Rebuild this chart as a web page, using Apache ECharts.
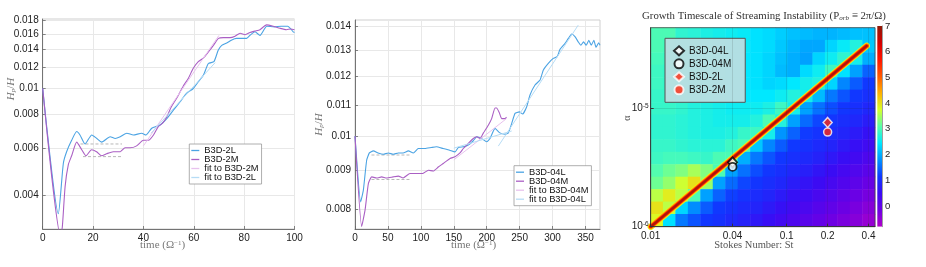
<!DOCTYPE html>
<html><head><meta charset="utf-8">
<script src="https://cdn.jsdelivr.net/npm/echarts@6/dist/echarts.min.js"></script>
<style>html,body{margin:0;padding:0;background:#fff}#c{width:926px;height:267px}</style>
</head><body><div id="c"></div>
<script>
// ---------------- Panel 1 (B3D-2L / B3D-2M) ----------------
const p1TimeL = [0, 6.2, 8.2, 9.5, 11.5, 13.5, 14.8, 16.8, 19.5, 21.5, 23.4, 26.8, 28.8, 30.8, 33.4, 36, 39.3, 41, 43.3, 46.6, 49.2, 51.9, 54.5, 57.2, 59.8, 61.8, 63.8, 65.8, 68, 69.7, 71.1, 73.1, 75.1, 77, 81, 82.3, 84.3, 86.3, 89, 92, 94.7, 97.3, 99.5, 100];
const p1ValL  = [0.0100, 0.0034, 0.00525, 0.0058, 0.0064, 0.0069, 0.0067, 0.0062, 0.0067, 0.0065, 0.0063, 0.0066, 0.0065, 0.0066, 0.0068, 0.0067, 0.0068, 0.0067, 0.0071, 0.0073, 0.0077, 0.0083, 0.0089, 0.0096, 0.0100, 0.0106, 0.0112, 0.0124, 0.0126, 0.0139, 0.0145, 0.0148, 0.0152, 0.0154, 0.0154, 0.0158, 0.0163, 0.0158, 0.0171, 0.0170, 0.0171, 0.0171, 0.0163, 0.0162];
const p1TimeM = [0, 7.1, 7.8, 8.9, 10.2, 11.5, 13.5, 15.5, 17.2, 19.4, 21.4, 23.4, 25.4, 28, 30.8, 32.7, 34.7, 37.3, 40, 42, 44, 45.9, 47.5, 49.2, 51, 53.2, 55.8, 57.8, 59.8, 61.8, 63.8, 65.8, 67.8, 69.8, 71.7, 74.4, 76.4, 78.4, 80.4, 82.3, 84.3, 86.3, 88.9, 91.5, 94.2, 96.8, 98.5, 100];
const p1ValM  = [0.0100, 0.0028, 0.00304, 0.0043, 0.0052, 0.0056, 0.0063, 0.0059, 0.0056, 0.0059, 0.0058, 0.0056, 0.0057, 0.0058, 0.0058, 0.0060, 0.0060, 0.0061, 0.0064, 0.0064, 0.0067, 0.0072, 0.0074, 0.0078, 0.0085, 0.0092, 0.0102, 0.0109, 0.0119, 0.0126, 0.0130, 0.0137, 0.0145, 0.0154, 0.0155, 0.0155, 0.0157, 0.0161, 0.0159, 0.0162, 0.0164, 0.0166, 0.0173, 0.0171, 0.0168, 0.0166, 0.0167, 0.0166];
const p1FitMTime = [40, 70];     const p1FitMVal = [0.0061, 0.0158];
const p1FitLTime = [43, 68.5];   const p1FitLVal = [0.0068, 0.0125];
const p1PlatLTime = [15, 31.5];  const p1PlatLVal = [0.0062, 0.0062];
const p1PlatMTime = [16, 31.5];  const p1PlatMVal = [0.00556, 0.00556];
const p1YTicks = [0.004, 0.006, 0.008, 0.01, 0.012, 0.014, 0.016, 0.018];
const p1XTicks = [0, 20, 40, 60, 80, 100];

// ---------------- Panel 2 (B3D-04L / B3D-04M) ----------------
const p2TimeL = [0, 8.6, 12.7, 17.7, 21.8, 27.8, 35, 43, 50.6, 58, 65.8, 73, 81, 88.6, 96.2, 106, 116, 123.5, 133.6, 143.7, 151.8, 156.9, 164.5, 172, 179.6, 184.8, 192, 200, 205, 212.6, 220, 227.8, 232.8, 238, 243, 249.5, 254.5, 260.7, 265.7, 273.3, 281, 286, 293.5, 301, 307, 311.3, 318.9, 323.9, 329, 334, 339, 343, 347, 351, 355, 358.7, 362.7, 366, 370, 372];
const p2ValL  = [0.0100, 0.00818, 0.00848, 0.00929, 0.0095, 0.00956, 0.0095, 0.00946, 0.0095, 0.00946, 0.0095, 0.0095, 0.00956, 0.0095, 0.00963, 0.00963, 0.00966, 0.00968, 0.00963, 0.00958, 0.00953, 0.00966, 0.00968, 0.00973, 0.00986, 0.00998, 0.00993, 0.00983, 0.00993, 0.01024, 0.0101, 0.01006, 0.0101, 0.0104, 0.01072, 0.01077, 0.0107, 0.01094, 0.01134, 0.01169, 0.01187, 0.01224, 0.01249, 0.01268, 0.01275, 0.01304, 0.01328, 0.01348, 0.01366, 0.01355, 0.01334, 0.0132, 0.01334, 0.0132, 0.0134, 0.0132, 0.0134, 0.01312, 0.0133, 0.0132];
const p2TimeM = [0, 10.1, 15.2, 20.3, 25.3, 33, 40.5, 48, 58, 65.8, 73, 83.5, 93.7, 103.8, 111.3, 118.9, 126.5, 134, 144.3, 151.8, 159.4, 164.5, 172, 179.6, 184.8, 189.9, 195, 202.4, 207.5, 212.6, 215, 219, 222.7, 227.8, 230];
const p2ValM  = [0.0100, 0.00759, 0.00797, 0.00865, 0.00883, 0.0088, 0.00883, 0.0088, 0.00883, 0.00885, 0.0088, 0.00892, 0.00892, 0.00893, 0.00901, 0.00899, 0.0091, 0.0092, 0.00934, 0.00939, 0.0095, 0.00963, 0.00978, 0.00993, 0.00998, 0.00993, 0.0101, 0.01034, 0.01055, 0.0109, 0.0109, 0.01075, 0.01055, 0.01055, 0.0106];
const p2FitMTime = [150, 230];      const p2FitMVal = [0.0093, 0.01055];
const p2FitL1Time = [150, 238];     const p2FitL1Val = [0.00964, 0.01016];
const p2FitL2Time = [217.6, 339];   const p2FitL2Val = [0.0097, 0.01404];
const p2PlatLTime = [25, 83.5];     const p2PlatLVal = [0.00944, 0.00944];
const p2PlatMTime = [25, 83.5];     const p2PlatMVal = [0.00876, 0.00876];
const p2YTicks = [0.008, 0.009, 0.01, 0.011, 0.012, 0.013, 0.014];
const p2XTicks = [0, 50, 100, 150, 200, 250, 300, 350];

// ---------------- Panel 3 (growth timescale map) ----------------
const p3StTicks = [0.01, 0.04, 0.1, 0.2, 0.4];
const p3AlphaTicks = [1e-6, 1e-5];
const p3StRange = [0.01, 0.446];
const p3AlphaRange = [1e-6, 4.8e-5];
// log10 growth time, grid rows from top (high alpha) to bottom, columns from St=0.01 to 0.446
const p3Grid = [
 [3.0, 3.0, 2.8, 2.75, 2.65, 2.6, 2.55, 2.5, 2.4, 2.35, 2.25, 2.15, 2.1, 2.05, 2.05, 2.1, 2.15, 2.15],
 [3.0, 2.95, 2.8, 2.75, 2.65, 2.6, 2.55, 2.5, 2.4, 2.35, 2.2, 2.05, 1.95, 1.95, 2.3, 2.5, 2.7, 2.2],
 [2.95, 2.9, 2.8, 2.7, 2.65, 2.6, 2.55, 2.45, 2.4, 2.3, 2.15, 2.0, 1.9, 2.3, 2.55, 2.8, 2.6, 2.0],
 [2.9, 2.85, 2.8, 2.7, 2.65, 2.6, 2.55, 2.45, 2.4, 2.3, 2.1, 2.0, 2.35, 2.55, 2.9, 2.4, 1.9, 1.45],
 [2.9, 2.85, 2.8, 2.7, 2.65, 2.6, 2.55, 2.45, 2.4, 2.3, 2.35, 2.45, 2.6, 2.7, 2.3, 1.7, 1.4, 1.15],
 [2.85, 2.85, 2.8, 2.7, 2.65, 2.6, 2.55, 2.45, 2.45, 2.45, 2.55, 2.7, 2.6, 2.1, 1.6, 1.35, 1.13, 1.03],
 [2.85, 2.85, 2.8, 2.7, 2.65, 2.6, 2.55, 2.55, 2.55, 2.65, 2.9, 2.6, 1.9, 1.55, 1.3, 1.12, 1.02, 0.9],
 [2.8, 2.8, 2.75, 2.7, 2.65, 2.6, 2.6, 2.6, 2.7, 3.0, 2.7, 1.9, 1.5, 1.25, 1.1, 1.0, 0.9, 0.75],
 [2.8, 2.8, 2.75, 2.7, 2.65, 2.65, 2.7, 2.85, 2.9, 2.6, 1.8, 1.45, 1.17, 1.07, 0.97, 0.87, 0.72, 0.58],
 [2.85, 2.85, 2.8, 2.75, 2.75, 2.75, 2.9, 3.0, 2.2, 1.7, 1.4, 1.15, 1.05, 0.95, 0.85, 0.7, 0.55, 0.42],
 [2.9, 2.95, 2.95, 2.9, 2.85, 3.0, 3.0, 2.0, 1.6, 1.35, 1.13, 1.03, 0.93, 0.82, 0.67, 0.53, 0.39, 0.25],
 [3.05, 3.2, 3.3, 3.5, 3.3, 3.0, 1.9, 1.55, 1.3, 1.12, 1.02, 0.9, 0.78, 0.64, 0.5, 0.36, 0.22, 0.08],
 [3.2, 3.4, 3.7, 4.0, 3.4, 1.9, 1.5, 1.25, 1.1, 1.0, 0.9, 0.75, 0.6, 0.47, 0.33, 0.2, 0.05, -0.1],
 [3.6, 3.9, 3.6, 3.0, 1.9, 1.45, 1.2, 1.07, 0.97, 0.87, 0.72, 0.58, 0.45, 0.3, 0.17, 0.03, -0.12, -0.25],
 [4.0, 3.6, 2.3, 1.75, 1.4, 1.15, 1.05, 0.95, 0.85, 0.7, 0.56, 0.42, 0.28, 0.14, 0.0, -0.14, -0.27, -0.4],
 [3.8, 2.4, 1.6, 1.35, 1.13, 1.05, 0.93, 0.82, 0.67, 0.53, 0.39, 0.25, 0.1, -0.03, -0.17, -0.28, -0.4, -0.55]
];
const ridgeSt = [0.01, 0.387];
const ridgeAlpha = [1e-6, 3.37e-5];
const runNames = ['B3D-04L', 'B3D-04M', 'B3D-2L', 'B3D-2M'];
const runSt = [0.04, 0.04, 0.2, 0.2];
const runAlpha = [3.5e-6, 3.2e-6, 7.6e-6, 6.3e-6];
const cbTicks = [0, 1, 2, 3, 4, 5, 6, 7];
const cbRange = [-0.8, 7];
const cmapValues = [-0.8, -0.15, 0.5, 1.15, 1.8, 2.45, 3.1, 3.75, 4.4, 5.05, 5.7, 6.35, 7.0];
const cmapColors = ['#b000c8', '#6c00e4', '#3a0cf4', '#1038ff', '#0094ff', '#00e8ff', '#5affa8', '#d8ff28', '#ffb000', '#ff5800', '#ff1400', '#d40000', '#8e1a08'];

// ---------------- helpers ----------------
const L = Math.log10;
const ZW = '\u200b';
const pairs = (ts, vs) => ts.map((t, i) => [t, L(vs[i])]);
const logPairs = (xs, ys) => xs.map((x, i) => [L(x), L(ys[i])]);
const hex2rgb = h => [1, 3, 5].map(k => parseInt(h.substr(k, 2), 16));
function colorAt(v) {
  for (let k = 0; k < cmapValues.length - 1; k++) {
    if (v >= cmapValues[k] && v <= cmapValues[k + 1]) {
      const f = (v - cmapValues[k]) / (cmapValues[k + 1] - cmapValues[k]);
      const a = hex2rgb(cmapColors[k]), b = hex2rgb(cmapColors[k + 1]);
      return 'rgb(' + a.map((c, i) => Math.round(c + (b[i] - c) * f)).join(',') + ')';
    }
  }
  return v < cmapValues[0] ? cmapColors[0] : cmapColors[cmapColors.length - 1];
}
function gradient(top, bottom) {
  const stops = [{offset: 0, color: colorAt(top)}];
  cmapValues.forEach(v => { if (v < top && v > bottom) stops.push({offset: (top - v) / (top - bottom), color: colorAt(v)}); });
  stops.push({offset: 1, color: colorAt(bottom)});
  stops.sort((a, b) => a.offset - b.offset);
  return new echarts.graphic.LinearGradient(0, 0, 0, 1, stops);
}
const nRows = p3Grid.length;
const heatData = [];
p3Grid.forEach((row, i) => row.forEach((v, j) => heatData.push([j, nRows - 1 - i, v])));
const colCats = p3Grid[0].map((_, j) => String(j));
const rowCats = p3Grid.map((_, i) => String(i));

const FONT = 'Liberation Sans';
const SERIF = 'Liberation Serif';
const BLUE = '#4ba3e3', PURPLE = '#aa5fc4', FITPINK = '#e8c2ee', FITBLUE = '#b6dcf5', DASH = '#b8b8b8';
const RED = '#ff2a10';

const tickFmt = v => String(parseFloat(Math.pow(10, v).toFixed(4)));
const axLine = {lineStyle: {color: '#555', width: 0.8}};
const axTick = extra => Object.assign({inside: true, length: 3, lineStyle: {color: '#666', width: 0.8}}, extra || {});
const axLabel = extra => Object.assign({color: '#222', fontSize: 10, fontFamily: FONT, margin: 4}, extra || {});
const split = extra => Object.assign({show: true, lineStyle: {color: '#e8e8e8', width: 1}}, extra || {});
const timeName = 'time (Ω{sup|−1})';
const timeNameStyle = {fontFamily: SERIF, fontSize: 11, color: '#777', rich: {sup: {fontFamily: SERIF, fontSize: 7, color: '#777', verticalAlign: 'top', lineHeight: 8}}};
const hName = '{it|H}{sub|p}{n|/}{it|H}';
const hRich = {it: {fontFamily: SERIF, fontStyle: 'italic', fontSize: 11, color: '#777'}, n: {fontFamily: SERIF, fontSize: 11, color: '#777'}, sub: {fontFamily: SERIF, fontStyle: 'italic', fontSize: 7, color: '#777', verticalAlign: 'bottom', lineHeight: 8}};

function lineS(name, x, y, data, color, width, extra) {
  return Object.assign({type: 'line', name, xAxisIndex: x, yAxisIndex: y, data, showSymbol: false, symbol: 'none', silent: true,
    lineStyle: {color, width}, itemStyle: {color}, emphasis: {disabled: true}, animation: false}, extra || {});
}

const series = [
  lineS('plat2L', 0, 0, pairs(p1PlatLTime, p1PlatLVal), DASH, 1, {lineStyle: {color: DASH, width: 1, type: [3, 2]}}),
  lineS('plat2M', 0, 0, pairs(p1PlatMTime, p1PlatMVal), DASH, 1, {lineStyle: {color: DASH, width: 1, type: [3, 2]}}),
  lineS('B3D-2L', 0, 0, pairs(p1TimeL, p1ValL), BLUE, 1.1, {smooth: 0.2}),
  lineS('B3D-2M', 0, 0, pairs(p1TimeM, p1ValM), PURPLE, 1.1, {smooth: 0.2}),
  lineS('fit to B3D-2M', 0, 0, pairs(p1FitMTime, p1FitMVal), FITPINK, 1),
  lineS('fit to B3D-2L', 0, 0, pairs(p1FitLTime, p1FitLVal), FITBLUE, 1),

  lineS('plat04L', 1, 1, pairs(p2PlatLTime, p2PlatLVal), DASH, 1, {lineStyle: {color: DASH, width: 1, type: [3, 2]}}),
  lineS('plat04M', 1, 1, pairs(p2PlatMTime, p2PlatMVal), DASH, 1, {lineStyle: {color: DASH, width: 1, type: [3, 2]}}),
  lineS('B3D-04L', 1, 1, pairs(p2TimeL, p2ValL), BLUE, 1.1, {smooth: 0.15}),
  lineS('B3D-04M', 1, 1, pairs(p2TimeM, p2ValM), PURPLE, 1.1, {smooth: 0.15}),
  lineS('fit to B3D-04M', 1, 1, pairs(p2FitMTime, p2FitMVal), FITPINK, 1),
  lineS('fit to B3D-04L', 1, 1, pairs(p2FitL1Time, p2FitL1Val), FITBLUE, 1),
  lineS('fit to B3D-04L', 1, 1, pairs(p2FitL2Time, p2FitL2Val), FITBLUE, 1),

  {type: 'heatmap', name: 'growth', xAxisIndex: 2, yAxisIndex: 2, data: heatData, silent: true, emphasis: {disabled: true}, z: 1, animation: false},
  lineS('ridge1', 3, 3, logPairs(ridgeSt, ridgeAlpha), '#f4ee10', 6.4, {z: 3, lineStyle: {color: '#f4ee10', width: 6.4, cap: 'round'}}),
  lineS('ridge2', 3, 3, logPairs(ridgeSt, ridgeAlpha), '#ff8a00', 4.8, {z: 3, lineStyle: {color: '#ff8a00', width: 4.8, cap: 'round'}}),
  lineS('ridge3', 3, 3, logPairs(ridgeSt, ridgeAlpha), '#f41000', 3.3, {z: 3, lineStyle: {color: '#f41000', width: 3.3, cap: 'round'}}),
  lineS('ridge4', 3, 3, logPairs(ridgeSt, ridgeAlpha), '#a8180a', 1.8, {z: 3, lineStyle: {color: '#a8180a', width: 1.8, cap: 'round'}}),
];
const markerStyles = [
  {symbol: 'diamond', symbolSize: [9, 10], itemStyle: {color: '#ffffff', borderColor: '#000', borderWidth: 1.8}},
  {symbol: 'circle', symbolSize: 8, itemStyle: {color: '#ffffff', borderColor: '#000', borderWidth: 1.8}},
  {symbol: 'diamond', symbolSize: [9, 10], itemStyle: {color: RED, borderColor: '#fff', borderWidth: 1.5}},
  {symbol: 'circle', symbolSize: 8, itemStyle: {color: RED, borderColor: '#fff', borderWidth: 1.5}}
];
runNames.forEach((n, k) => series.push(Object.assign({type: 'scatter', name: n + ZW, xAxisIndex: 3, yAxisIndex: 3, z: 6,
  data: [[L(runSt[k]), L(runAlpha[k])]], silent: true, emphasis: {disabled: true}, animation: false}, markerStyles[k])));
series.push({type: 'bar', name: 'cbPos', xAxisIndex: 4, yAxisIndex: 4, data: [cbRange[1]], barWidth: '100%', barGap: '-100%', silent: true,
  itemStyle: {color: gradient(cbRange[1], 0)}, animation: false});
series.push({type: 'bar', name: 'cbNeg', xAxisIndex: 4, yAxisIndex: 4, data: [cbRange[0]], barWidth: '100%', barGap: '-100%', silent: true,
  itemStyle: {color: gradient(0, cbRange[0])}, animation: false});
const heatIdx = series.findIndex(s => s.type === 'heatmap');

const legendBase = {orient: 'vertical', icon: 'rect', selectedMode: false, itemGap: 0, backgroundColor: '#fff',
  borderColor: '#9a9a9a', borderWidth: 0.8, borderRadius: 0};

const option = {
  animation: false,
  textStyle: {fontFamily: FONT},
  title: {text: 'Growth Timescale of Streaming Instability (P{sub|orb} ≡ 2π/Ω)', left: 642, top: 11, padding: 0,
    textStyle: {fontFamily: SERIF, fontSize: 10.8, fontWeight: 'normal', color: '#333',
      rich: {sub: {fontFamily: SERIF, fontSize: 7, fontStyle: 'italic', color: '#333', verticalAlign: 'bottom', lineHeight: 7}}}},
  grid: [
    {left: 42.7, top: 19, width: 251.8, height: 210, show: true, borderColor: '#cfcfcf', borderWidth: 1},
    {left: 355, top: 20, width: 245, height: 209, show: true, borderColor: '#cfcfcf', borderWidth: 1},
    {left: 650.7, top: 27.7, width: 224.3, height: 199},
    {left: 650.7, top: 27.7, width: 224.3, height: 199, show: true, borderColor: '#444', borderWidth: 0.8, z: 4},
    {left: 877.3, top: 26, width: 4.7, height: 200.7}
  ],
  xAxis: [
    {gridIndex: 0, type: 'value', min: 0, max: 100, axisLine: axLine, axisTick: axTick({customValues: p1XTicks}),
      axisLabel: axLabel({customValues: p1XTicks}), splitLine: split(),
      name: timeName, nameLocation: 'middle', nameGap: 10.5, nameMoveOverlap: false,
      nameTextStyle: Object.assign({padding: [0, 12, 0, 0]}, timeNameStyle)},
    {gridIndex: 1, type: 'value', min: 0, max: 372, axisLine: axLine, axisTick: axTick({customValues: p2XTicks}),
      axisLabel: axLabel({customValues: p2XTicks}), splitLine: split(),
      name: timeName, nameLocation: 'middle', nameGap: 10.5, nameMoveOverlap: false,
      nameTextStyle: Object.assign({padding: [0, 8, 0, 0]}, timeNameStyle)},
    {gridIndex: 2, type: 'category', data: colCats, show: false},
    {gridIndex: 3, type: 'value', min: L(p3StRange[0]), max: L(p3StRange[1]), z: 5,
      axisLine: {lineStyle: {color: '#333', width: 0.8}}, axisTick: axTick({customValues: p3StTicks.map(L), lineStyle: {color: '#333'}}),
      axisLabel: axLabel({customValues: p3StTicks.map(L), formatter: v => String(parseFloat(Math.pow(10, v).toFixed(2))), margin: 5}),
      splitLine: {show: true, lineStyle: {color: 'rgba(40,40,40,0.13)', width: 1}},
      name: 'Stokes Number: St', nameLocation: 'middle', nameGap: 13.5, nameMoveOverlap: false,
      nameTextStyle: {fontFamily: SERIF, fontSize: 10.5, color: '#555', padding: [0, 18, 0, 0]}},
    {gridIndex: 4, type: 'category', data: ['cb'], show: false}
  ],
  yAxis: [
    {gridIndex: 0, type: 'value', min: L(0.00298), max: L(0.0182), axisLine: axLine,
      axisTick: axTick({customValues: p1YTicks.map(L)}), axisLabel: axLabel({customValues: p1YTicks.map(L), formatter: tickFmt}),
      splitLine: split(), name: hName, nameLocation: 'middle', nameGap: 26.5, nameMoveOverlap: false,
      nameTextStyle: {rich: hRich, padding: [0, 0, 0, 70]}},
    {gridIndex: 1, type: 'value', min: L(0.00753), max: L(0.01426), axisLine: axLine,
      axisTick: axTick({customValues: p2YTicks.map(L)}), axisLabel: axLabel({customValues: p2YTicks.map(L), formatter: tickFmt}),
      splitLine: split(), name: hName, nameLocation: 'middle', nameGap: 30.5, nameMoveOverlap: false, nameTextStyle: {rich: hRich}},
    {gridIndex: 2, type: 'category', data: rowCats, show: false},
    {gridIndex: 3, type: 'value', min: L(p3AlphaRange[0]), max: L(p3AlphaRange[1]), z: 5,
      axisLine: {lineStyle: {color: '#333', width: 0.8}}, axisTick: axTick({customValues: p3AlphaTicks.map(L), lineStyle: {color: '#333'}}),
      axisLabel: axLabel({customValues: p3AlphaTicks.map(L), formatter: v => '10{s|' + Math.round(v) + '}', margin: 2, lineHeight: 12,
        rich: {s: {fontSize: 6.5, fontFamily: FONT, color: '#222', verticalAlign: 'top', lineHeight: 7}}}),
      splitLine: {show: true, lineStyle: {color: 'rgba(40,40,40,0.13)', width: 1}},
      name: 'α', nameLocation: 'middle', nameGap: 18, nameMoveOverlap: false,
      nameTextStyle: {fontFamily: SERIF, fontSize: 10, color: '#555', padding: [0, 0, 0, 18]}},
    {gridIndex: 4, type: 'value', min: -0.805, max: cbRange[1], position: 'right',
      axisLine: {show: true, lineStyle: {color: '#888', width: 0.8}},
      axisTick: {show: true, inside: true, length: 2, customValues: cbTicks, lineStyle: {color: '#444'}},
      axisLabel: {customValues: cbTicks, fontSize: 9.5, fontFamily: FONT, color: '#222', margin: 3},
      splitLine: {show: false}}
  ],
  visualMap: {type: 'continuous', show: false, seriesIndex: heatIdx, dimension: 2, min: cbRange[0], max: cbRange[1],
    inRange: {color: cmapColors}},
  legend: [
    Object.assign({}, legendBase, {data: ['B3D-2L', 'B3D-2M', 'fit to B3D-2M', 'fit to B3D-2L'], left: 189.3, top: 144,
      itemWidth: 8, itemHeight: 1.3, padding: [2, 3, 2, 2],
      textStyle: {fontSize: 9.3, fontFamily: FONT, color: '#111', lineHeight: 8.6}}),
    Object.assign({}, legendBase, {data: ['B3D-04L', 'B3D-04M', 'fit to B3D-04M', 'fit to B3D-04L'], left: 514, top: 165.7,
      itemWidth: 8, itemHeight: 1.3, padding: [2, 3, 2, 2],
      textStyle: {fontSize: 9.3, fontFamily: FONT, color: '#111', lineHeight: 8.6}}),
    {orient: 'vertical', selectedMode: false, data: runNames.map(n => n + ZW), left: 665, top: 38.3, itemWidth: 10, itemHeight: 9, itemGap: 2,
      formatter: n => n.replace(ZW, ''),
      padding: [7, 14, 7, 8], backgroundColor: 'rgba(186,222,226,0.95)', borderColor: '#555', borderWidth: 1, borderRadius: 0,
      textStyle: {fontSize: 10, fontFamily: FONT, color: '#111', lineHeight: 10}}
  ],
  series
};
const chart = echarts.init(document.getElementById('c'), null, {renderer: 'canvas'});
chart.setOption(option);
</script></body></html>
